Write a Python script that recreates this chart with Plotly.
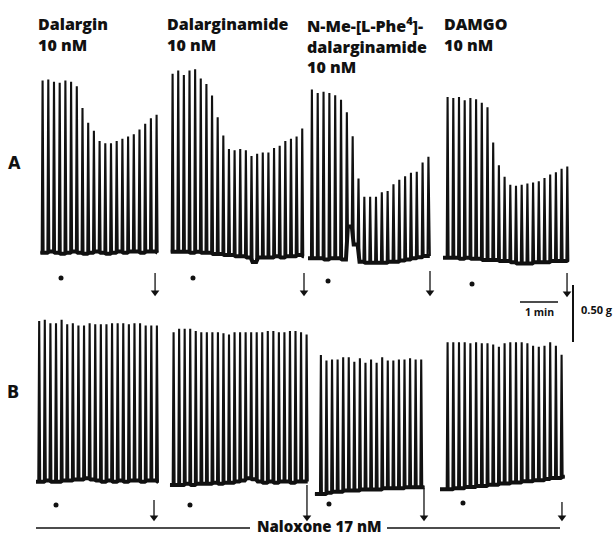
import plotly.graph_objects as go

# ================= data =================
drug_titles = ["Dalargin<br>10 nM", "Dalarginamide<br>10 nM",
               "N-Me-[L-Phe<sup>4</sup>]-<br>dalarginamide<br>10 nM", "DAMGO<br>10 nM"]
row_labels = ["A", "B"]
naloxone_label = "Naloxone 17 nM"
scale_time_label = "1 min"
scale_force_label = "0.50 g"
scale_time_s = 60.0
scale_force_g = 0.50

# twitch peak tension (g), relative to the starting baseline of each trace
peaks_A1 = [1.51, 1.52, 1.50, 1.49, 1.51, 1.50, 1.46, 1.27, 1.14, 1.07, 0.98, 0.96, 0.96, 0.98, 1.00,
            1.02, 1.04, 1.08, 1.13, 1.18, 1.21]
peaks_A2 = [1.56, 1.59, 1.55, 1.59, 1.60, 1.52, 1.47, 1.37, 1.18, 1.02, 0.90, 0.89, 0.90, 0.89, 0.84,
            0.86, 0.87, 0.87, 0.91, 0.93, 0.97, 0.99, 1.01, 1.08]
peaks_A3 = [1.48, 1.45, 1.46, 1.45, 1.43, 1.39, 1.28, 1.07, 0.70, 0.54, 0.54, 0.54, 0.58, 0.59, 0.65,
            0.69, 0.72, 0.75, 0.76, 0.84, 0.89]
peaks_A4 = [1.41, 1.40, 1.41, 1.38, 1.40, 1.39, 1.36, 1.32, 1.01, 0.81, 0.71, 0.64, 0.63, 0.64, 0.65,
            0.66, 0.67, 0.70, 0.73, 0.75, 0.78, 0.80]
peaks_B1 = [1.41, 1.42, 1.39, 1.39, 1.42, 1.38, 1.39, 1.37, 1.37, 1.39, 1.38, 1.38, 1.38, 1.39, 1.39,
            1.39, 1.38, 1.39, 1.39, 1.37, 1.37, 1.37]
peaks_B2 = [1.34, 1.37, 1.37, 1.37, 1.35, 1.34, 1.34, 1.34, 1.34, 1.33, 1.32, 1.34, 1.34, 1.34, 1.34,
            1.34, 1.34, 1.35, 1.35, 1.34, 1.34, 1.35, 1.35, 1.34, 1.32]
peaks_B3 = [1.20, 1.15, 1.16, 1.16, 1.18, 1.18, 1.14, 1.17, 1.13, 1.16, 1.13, 1.18, 1.15, 1.15, 1.16,
            1.16, 1.17, 1.16, 1.16]
peaks_B4 = [1.29, 1.29, 1.29, 1.29, 1.28, 1.29, 1.28, 1.28, 1.27, 1.25, 1.28, 1.29, 1.29, 1.29, 1.28,
            1.26, 1.25, 1.26, 1.29, 1.26, 1.18]

# resting tension (g) after each twitch, relative to the starting baseline
base_A1 = [0.00, 0.01, 0.00, -0.01, 0.00, 0.01, 0.00, -0.01, 0.00, 0.01, 0.00, -0.01, 0.00, 0.01, 0.00,
           0.01, 0.01, 0.00, 0.01, 0.01, 0.00]
base_A2 = [0.00, 0.00, 0.00, -0.01, 0.00, -0.01, -0.01, -0.02, -0.02, -0.03, -0.03, -0.04, -0.04, -0.05,
           -0.09, -0.05, -0.05, -0.05, -0.04, -0.05, -0.04, -0.04, -0.03, -0.04]
base_A3 = [0.00, 0.00, -0.01, 0.00, 0.00, -0.01, 0.28, 0.12, -0.03, -0.04, -0.04, -0.04, -0.04, -0.03,
           -0.03, -0.02, -0.01, 0.00, 0.01, 0.02, 0.02]
base_A4 = [0.00, 0.00, -0.01, 0.00, -0.01, -0.01, -0.02, -0.02, -0.02, -0.03, -0.03, -0.04, -0.05, -0.05,
           -0.05, -0.04, -0.04, -0.04, -0.03, -0.03, -0.03, -0.02]
base_B1 = [0.00, 0.01, 0.00, 0.00, 0.01, 0.01, 0.02, 0.02, 0.03, 0.02, 0.01, 0.00, 0.01, 0.00, 0.01,
           0.00, 0.01, 0.01, 0.00, 0.01, 0.01, 0.00]
base_B2 = [0.00, 0.00, 0.01, 0.00, 0.01, 0.01, 0.01, 0.02, 0.01, 0.02, 0.02, 0.03, 0.04, 0.06, 0.05,
           0.03, 0.02, 0.03, 0.02, 0.03, 0.03, 0.02, 0.03, 0.03, 0.03]
base_B3 = [-0.02, -0.01, 0.00, 0.00, 0.01, 0.01, 0.01, 0.02, 0.02, 0.02, 0.02, 0.03, 0.03, 0.03, 0.03,
           0.04, 0.04, 0.04, 0.04]
base_B4 = [0.00, 0.01, 0.01, 0.02, 0.02, 0.03, 0.03, 0.04, 0.04, 0.05, 0.05, 0.06, 0.06, 0.07, 0.07,
           0.08, 0.08, 0.09, 0.10, 0.10, 0.11]

panels = ["A1", "A2", "A3", "A4", "B1", "B2", "B3", "B4"]
stim_interval_s = [9.0, 8.9, 9.2, 9.0, 8.85, 8.75, 8.8, 9.0]      # time between twitches
drug_add_s = [30.5, 33.6, 26.9, 40.0, 28.0, 27.3, 14.2, 25.7]      # dot: drug added (s after 1st twitch)
washout_s = [179.0, 208.9, 187.9, 190.0, 182.7, 212.0, 164.2, 182.0]  # arrow: washout
trace_start_s = [-2.0, -1.5, -4.7, -5.8, -3.6, -4.3, -8.0, -10.6]
trace_end_s = [3.0, 4.0, 3.6, 2.0, 2.0, 3.2, 6.5, 6.3]

peaks = dict(zip(panels, [peaks_A1, peaks_A2, peaks_A3, peaks_A4, peaks_B1, peaks_B2, peaks_B3, peaks_B4]))
bases = dict(zip(panels, [base_A1, base_A2, base_A3, base_A4, base_B1, base_B2, base_B3, base_B4]))

# ================= layout (pixel placement of the recording) =================
W, H = 615, 538
PX_PER_S = 38.0 / 60.0       # chart-recorder speed
PX_PER_G = 114.0             # pen gain
origin_px = [(41.7, 252.7), (171.7, 251.7), (311.0, 258.3), (446.7, 257.7),
             (38.3, 481.7), (172.7, 485.0), (320.0, 491.7), (446.7, 489.3)]
dot_py = [278, 278, 281, 284, 505, 505, 504, 503]
arrow_py = [(273, 296), (273, 296), (271, 296), (273, 297),
            (500, 521), (485, 521), (488, 521), (502, 521)]
INK = "#111111"
RISE_S, FALL_S = 1.4, 3.0

fig = go.Figure()
axes_layout = {}
annotations = []

for k, pid in enumerate(panels):
    sx = "" if k == 0 else str(k + 1)
    xa, ya = "x" + sx, "y" + sx
    x0, y0 = origin_px[k]
    axes_layout["xaxis" + sx] = dict(domain=[0, 1], range=[-x0 / PX_PER_S, (W - x0) / PX_PER_S],
                                     visible=False, fixedrange=True)
    axes_layout["yaxis" + sx] = dict(domain=[0, 1], range=[(y0 - H) / PX_PER_G, y0 / PX_PER_G],
                                     visible=False, fixedrange=True)
    pk, bs = peaks[pid], bases[pid]
    times = [i * stim_interval_s[k] for i in range(len(pk))]

    # thick resting-tension band
    bx, by = [trace_start_s[k]], [bs[0]]
    prev = bs[0]
    for t, b in zip(times, bs):
        bx += [t, t + FALL_S]
        by += [prev, b]
        prev = b
    bx.append(times[-1] + trace_end_s[k])
    by.append(prev)
    fig.add_trace(go.Scatter(x=bx, y=by, xaxis=xa, yaxis=ya, mode="lines",
                             line=dict(color=INK, width=4.0), hoverinfo="skip", showlegend=False))

    # twitches
    tx, ty = [trace_start_s[k]], [bs[0]]
    prev = bs[0]
    for t, p, b in zip(times, pk, bs):
        tx += [t, t + RISE_S, t + FALL_S]
        ty += [prev, p, b]
        prev = b
    tx.append(times[-1] + trace_end_s[k])
    ty.append(prev)
    fig.add_trace(go.Scatter(x=tx, y=ty, xaxis=xa, yaxis=ya, mode="lines",
                             line=dict(color=INK, width=2.1), hoverinfo="skip", showlegend=False))

    # drug addition dot
    fig.add_trace(go.Scatter(x=[drug_add_s[k]], y=[(y0 - dot_py[k]) / PX_PER_G], xaxis=xa, yaxis=ya,
                             mode="markers", marker=dict(color=INK, size=5),
                             hoverinfo="skip", showlegend=False))

    # washout arrow: shaft + head
    top, bot = arrow_py[k]
    fig.add_trace(go.Scatter(x=[washout_s[k], washout_s[k]],
                             y=[(y0 - top) / PX_PER_G, (y0 - bot + 4) / PX_PER_G],
                             xaxis=xa, yaxis=ya, mode="lines", line=dict(color=INK, width=1.3),
                             hoverinfo="skip", showlegend=False))
    fig.add_trace(go.Scatter(x=[washout_s[k]], y=[(y0 - bot + 3.5) / PX_PER_G], xaxis=xa, yaxis=ya,
                             mode="markers", marker=dict(symbol="triangle-down", color=INK, size=7.5,
                                                         line=dict(width=0)),
                             hoverinfo="skip", showlegend=False))

# scale bars drawn on panel A4's axes
x0, y0 = origin_px[3]
h_t0 = (520 - x0) / PX_PER_S
h_g = (y0 - 302) / PX_PER_G
v_t = (573 - x0) / PX_PER_S
v_g0 = (y0 - 285) / PX_PER_G
fig.add_trace(go.Scatter(x=[h_t0, h_t0 + scale_time_s], y=[h_g, h_g], xaxis="x4", yaxis="y4",
                         mode="lines", line=dict(color=INK, width=1.4), hoverinfo="skip", showlegend=False))
fig.add_trace(go.Scatter(x=[v_t, v_t], y=[v_g0, v_g0 - scale_force_g], xaxis="x4", yaxis="y4",
                         mode="lines", line=dict(color=INK, width=2.0), hoverinfo="skip", showlegend=False))


def px_ann(text, x, y, size, xanchor="left", family="Open Sans", weight="bold", yanchor="middle"):
    return dict(text=text, x=x / W, y=1 - y / H, xref="paper", yref="paper", showarrow=False,
                xanchor=xanchor, yanchor=yanchor, align="left",
                font=dict(family=family, size=size, color=INK, weight=weight))


title_x = [36, 165, 305, 442]
for i in range(4):
    annotations.append(px_ann(drug_titles[i], title_x[i], 11, 16, weight=800, yanchor="top"))

annotations.append(px_ann(row_labels[0], 14, 163, 18, "center", "DejaVu Sans Condensed", 900))
annotations.append(px_ann(row_labels[1], 13, 391, 18, "center", "DejaVu Sans Condensed", 900))
annotations.append(px_ann(scale_time_label, 539, 312, 10.5, "center", "Open Sans", 700))
annotations.append(px_ann(scale_force_label, 579, 309, 11, "left", "Open Sans", 700))
annotations.append(px_ann(naloxone_label, 319, 526, 15, "center", weight=800))

shapes = [
    dict(type="line", xref="paper", yref="paper", x0=36 / W, x1=250 / W, y0=1 - 528 / H, y1=1 - 528 / H,
         line=dict(color=INK, width=1.3)),
    dict(type="line", xref="paper", yref="paper", x0=387 / W, x1=560 / W, y0=1 - 528 / H, y1=1 - 528 / H,
         line=dict(color=INK, width=1.3)),
]

fig.update_layout(width=W, height=H, autosize=False, margin=dict(l=0, r=0, t=0, b=0),
                  paper_bgcolor="white", plot_bgcolor="rgba(0,0,0,0)",
                  annotations=annotations, shapes=shapes, showlegend=False, **axes_layout)

fig.write_html("out.html", config={"displayModeBar": False, "staticPlot": True},
               post_script="document.body.style.margin='0';document.body.style.overflow='hidden';")
